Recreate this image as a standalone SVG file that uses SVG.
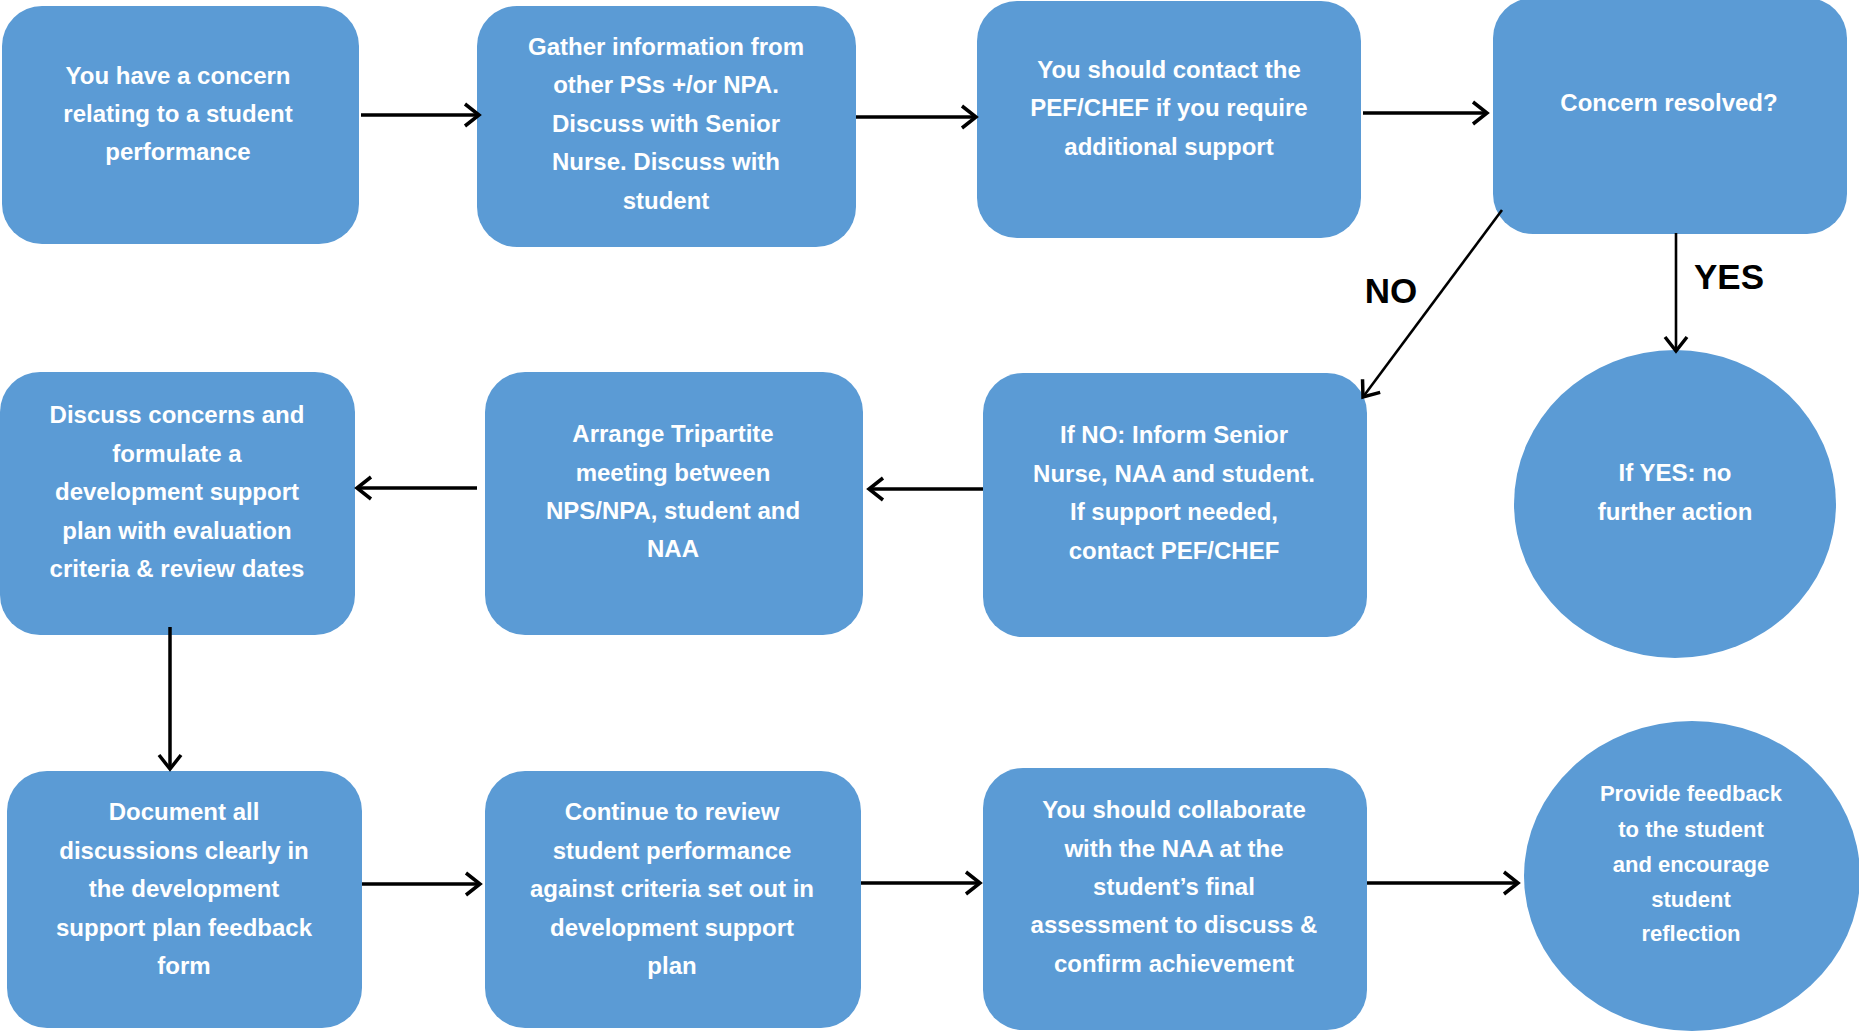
<svg xmlns="http://www.w3.org/2000/svg" width="1859" height="1032" viewBox="0 0 1859 1032">
<style>
.n{fill:#5B9BD5}
.t{font-family:"Liberation Sans",Arial,sans-serif;font-weight:bold;font-size:24px;fill:#fff;text-anchor:middle}
.s{font-size:22px}
.lbl{font-family:"Liberation Sans",Arial,sans-serif;font-weight:bold;font-size:35px;fill:#000;text-anchor:middle}
.c{stroke:#000;stroke-width:3.5;fill:none;marker-end:url(#ah)}
.d{stroke-width:2.6}
</style>
<defs>
<marker id="ah" markerUnits="userSpaceOnUse" viewBox="-3 -3 24 28" markerWidth="24" markerHeight="28" refX="15" refY="11" orient="auto">
<path d="M1,0 L15,11 L1,22" fill="none" stroke="#000" stroke-width="3.5"/>
</marker>
</defs>
<rect width="1859" height="1032" fill="#fff"/>
<g id="n1"><rect class="n" x="2" y="6" width="357" height="238" rx="40"/>
<text class="t"><tspan x="178" y="84">You have a concern</tspan><tspan x="178" y="122">relating to a student</tspan><tspan x="178" y="160">performance</tspan></text></g>
<g id="n2"><rect class="n" x="477" y="6" width="379" height="241" rx="40"/>
<text class="t"><tspan x="666" y="55">Gather information from</tspan><tspan x="666" y="93">other PSs +/or NPA.</tspan><tspan x="666" y="132">Discuss with Senior</tspan><tspan x="666" y="170">Nurse. Discuss with</tspan><tspan x="666" y="209">student</tspan></text></g>
<g id="n3"><rect class="n" x="977" y="1" width="384" height="237" rx="40"/>
<text class="t"><tspan x="1169" y="78">You should contact the</tspan><tspan x="1169" y="116">PEF/CHEF if you require</tspan><tspan x="1169" y="155">additional support</tspan></text></g>
<g id="n4"><rect class="n" x="1493" y="-2" width="354" height="236" rx="40"/>
<text class="t"><tspan x="1669" y="111">Concern resolved?</tspan></text></g>
<g id="n5"><rect class="n" x="983" y="373" width="384" height="264" rx="40"/>
<text class="t"><tspan x="1174" y="443">If NO: Inform Senior</tspan><tspan x="1174" y="482">Nurse, NAA and student.</tspan><tspan x="1174" y="520">If support needed,</tspan><tspan x="1174" y="559">contact PEF/CHEF</tspan></text></g>
<g id="n6"><ellipse class="n" cx="1675" cy="504" rx="161" ry="154"/>
<text class="t"><tspan x="1675" y="481">If YES: no</tspan><tspan x="1675" y="520">further action</tspan></text></g>
<g id="n7"><rect class="n" x="485" y="372" width="378" height="263" rx="40"/>
<text class="t"><tspan x="673" y="442">Arrange Tripartite</tspan><tspan x="673" y="481">meeting between</tspan><tspan x="673" y="519">NPS/NPA, student and</tspan><tspan x="673" y="557">NAA</tspan></text></g>
<g id="n8"><rect class="n" x="0" y="372" width="355" height="263" rx="40"/>
<text class="t"><tspan x="177" y="423">Discuss concerns and</tspan><tspan x="177" y="462">formulate a</tspan><tspan x="177" y="500">development support</tspan><tspan x="177" y="539">plan with evaluation</tspan><tspan x="177" y="577">criteria &amp; review dates</tspan></text></g>
<g id="n9"><rect class="n" x="7" y="771" width="355" height="257" rx="40"/>
<text class="t"><tspan x="184" y="820">Document all</tspan><tspan x="184" y="859">discussions clearly in</tspan><tspan x="184" y="897">the development</tspan><tspan x="184" y="936">support plan feedback</tspan><tspan x="184" y="974">form</tspan></text></g>
<g id="n10"><rect class="n" x="485" y="771" width="376" height="257" rx="40"/>
<text class="t"><tspan x="672" y="820">Continue to review</tspan><tspan x="672" y="859">student performance</tspan><tspan x="672" y="897">against criteria set out in</tspan><tspan x="672" y="936">development support</tspan><tspan x="672" y="974">plan</tspan></text></g>
<g id="n11"><rect class="n" x="983" y="768" width="384" height="262" rx="40"/>
<text class="t"><tspan x="1174" y="818">You should collaborate</tspan><tspan x="1174" y="857">with the NAA at the</tspan><tspan x="1174" y="895">student’s final</tspan><tspan x="1174" y="933">assessment to discuss &amp;</tspan><tspan x="1174" y="972">confirm achievement</tspan></text></g>
<g id="n12"><ellipse class="n" cx="1692" cy="876" rx="168" ry="155"/>
<text class="t s"><tspan x="1691" y="801">Provide feedback</tspan><tspan x="1691" y="837">to the student</tspan><tspan x="1691" y="872">and encourage</tspan><tspan x="1691" y="907">student</tspan><tspan x="1691" y="941">reflection</tspan></text></g>
<g id="connectors">
<line class="c" x1="361" y1="115" x2="479" y2="115"/>
<line class="c" x1="856" y1="117" x2="976" y2="117"/>
<line class="c" x1="1363" y1="113" x2="1487" y2="113"/>
<line class="c d" x1="1502" y1="210" x2="1363" y2="397"/>
<line class="c d" x1="1676" y1="233" x2="1676" y2="351"/>
<line class="c" x1="983" y1="489" x2="869" y2="489"/>
<line class="c" x1="477" y1="488" x2="357" y2="488"/>
<line class="c" x1="170" y1="627" x2="170" y2="769"/>
<line class="c" x1="362" y1="884" x2="480" y2="884"/>
<line class="c" x1="861" y1="883" x2="980" y2="883"/>
<line class="c" x1="1367" y1="883" x2="1518" y2="883"/>
<text class="lbl" x="1391" y="303">NO</text>
<text class="lbl" x="1729" y="289">YES</text>
</g>
</svg>
